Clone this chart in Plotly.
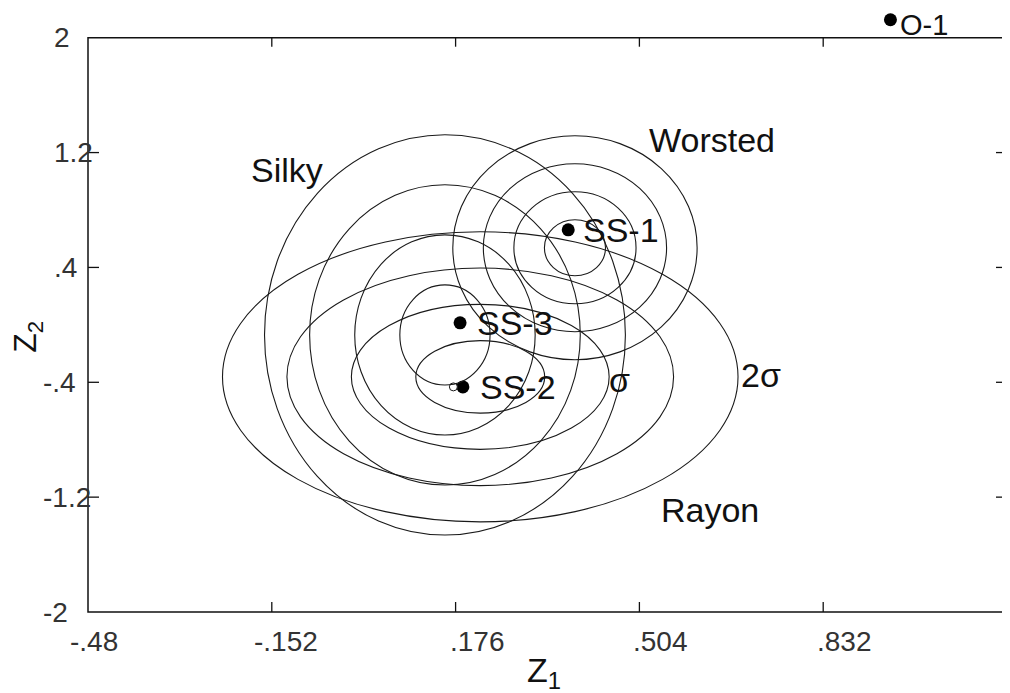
import plotly.graph_objects as go

# ---------------- data ----------------
groups = ["Silky", "Worsted", "Rayon"]
group_center_x = [0.157, 0.389, 0.220]
group_center_y = [-0.070, 0.537, -0.362]
group_sigma_x = [0.161, 0.109, 0.230]
group_sigma_y = [0.697, 0.390, 0.505]
sigma_levels = [0.5, 1.0, 1.5, 2.0]

sample_names = ["SS-1", "SS-2", "SS-3", "O-1"]
sample_x = [0.377, 0.189, 0.184, 0.952]
sample_y = [0.662, -0.432, 0.014, 2.125]

ref_marker_x = [0.172]
ref_marker_y = [-0.432]

x_tick_vals = [-0.48, -0.152, 0.176, 0.504, 0.832]
x_tick_text = ["-.48", "-.152", ".176", ".504", ".832"]
y_tick_vals = [2, 1.2, 0.4, -0.4, -1.2, -2]
y_tick_text = ["2", "1.2", ".4", "-.4", "-1.2", "-2"]

frame_x = [-0.48, 1.16]
frame_y = [-2, 2]

# ---------------- style / layout ----------------
# page body has an 8px margin -> figure is 8px smaller than the window
W, H = 1002, 685
PX_PER_X = 560.2        # pixels per data unit (x)
PX_PER_Y = 143.5        # pixels per data unit (y)
PAD_X = 2 / PX_PER_X    # tiny padding so the frame lines are not clipped
PAD_Y = 2 / PX_PER_Y
TOP_ROOM = 0.2          # extra room above the frame for the O-1 point
x_range = [frame_x[0] - PAD_X, frame_x[1] + PAD_X]
y_range = [frame_y[0] - PAD_Y, frame_y[1] + TOP_ROOM]
PW = (x_range[1] - x_range[0]) * PX_PER_X
PH = (y_range[1] - y_range[0]) * PX_PER_Y
ML = 78
MT = (38 - 8) - TOP_ROOM * PX_PER_Y
MR = W - ML - PW
MB = H - MT - PH

LINE = "#1a1a1a"
FRAME = "#111"
LABEL_FONT = "Liberation Sans, Arial, Helvetica, sans-serif"
TICK_FONT = "Liberation Sans, Arial, sans-serif"
LABEL_SIZE = 34


def px_x(p):
    """window pixel x -> paper fraction"""
    return (p - 8 - ML) / PW


def px_y(p):
    """window pixel y -> paper fraction"""
    return (MT + PH - (p - 8)) / PH


fig = go.Figure()

shapes = []
# ellipses (sigma contours) as plotly ellipse shapes in data coordinates
for gi in range(len(groups)):
    for k in sigma_levels:
        shapes.append(dict(
            type="circle", xref="x", yref="y",
            x0=group_center_x[gi] - k * group_sigma_x[gi],
            x1=group_center_x[gi] + k * group_sigma_x[gi],
            y0=group_center_y[gi] - k * group_sigma_y[gi],
            y1=group_center_y[gi] + k * group_sigma_y[gi],
            line=dict(color=LINE, width=1.1),
            layer="above",
        ))

# plot frame
shapes.append(dict(
    type="rect", xref="x", yref="y",
    x0=frame_x[0], x1=frame_x[1], y0=frame_y[0], y1=frame_y[1],
    line=dict(color=FRAME, width=1.5), layer="above",
))
# inside ticks on all four sides
for v in x_tick_vals[1:]:
    shapes.append(dict(type="line", xref="x", yref="y", ysizemode="pixel",
                       yanchor=frame_y[0], x0=v, x1=v, y0=0, y1=10,
                       line=dict(color=FRAME, width=1.3)))
    shapes.append(dict(type="line", xref="x", yref="y", ysizemode="pixel",
                       yanchor=frame_y[1], x0=v, x1=v, y0=0, y1=-9,
                       line=dict(color=FRAME, width=1.3)))
for v in y_tick_vals[1:-1]:
    shapes.append(dict(type="line", xref="x", yref="y", xsizemode="pixel",
                       xanchor=frame_x[0], x0=0, x1=11, y0=v, y1=v,
                       line=dict(color=FRAME, width=1.3)))
    shapes.append(dict(type="line", xref="x", yref="y", xsizemode="pixel",
                       xanchor=frame_x[1], x0=0, x1=-11, y0=v, y1=v,
                       line=dict(color=FRAME, width=1.3)))

fig.add_trace(go.Scatter(
    x=sample_x, y=sample_y, mode="markers",
    marker=dict(color="black", size=13),
    hoverinfo="skip", showlegend=False,
))
fig.add_trace(go.Scatter(
    x=ref_marker_x, y=ref_marker_y, mode="markers",
    marker=dict(color="white", size=8, symbol="circle",
                line=dict(color=LINE, width=1)),
    hoverinfo="skip", showlegend=False,
))

annotations = []

# sample labels to the right of their dots
sample_label_shift = {"SS-1": 13, "SS-2": 15, "SS-3": 15, "O-1": 9}
for name, x, y in zip(sample_names, sample_x, sample_y):
    if name == "O-1":
        # keep the text box inside the page (top edge just below the window edge)
        annotations.append(dict(
            x=x, y=y, xref="x", yref="y", text=name, showarrow=False,
            xanchor="left", yanchor="top", xshift=sample_label_shift[name],
            yshift=11.5, borderpad=0,
            font=dict(family=LABEL_FONT, size=29, color="#111"),
        ))
    else:
        annotations.append(dict(
            x=x, y=y, xref="x", yref="y", text=name, showarrow=False,
            xanchor="left", yanchor="middle", xshift=sample_label_shift[name],
            font=dict(family=LABEL_FONT, size=LABEL_SIZE, color="#111"),
        ))

# group / sigma labels (placement in data coordinates)
group_label_pos = {
    "Silky": (-0.193, 1.080),
    "Worsted": (0.518, 1.289),
    "Rayon": (0.539, -1.289),
}
for g in groups:
    gx, gy = group_label_pos[g]
    annotations.append(dict(
        x=gx, y=gy, xref="x", yref="y", text=g, showarrow=False,
        xanchor="left", yanchor="middle",
        font=dict(family=LABEL_FONT, size=LABEL_SIZE, color="#111"),
    ))
for txt, (sx, sy) in [("σ", (0.446, -0.383)), ("2σ", (0.682, -0.348))]:
    annotations.append(dict(
        x=sx, y=sy, xref="x", yref="y", text=txt, showarrow=False,
        xanchor="left", yanchor="middle",
        font=dict(family=LABEL_FONT, size=LABEL_SIZE, color="#111"),
    ))

# x tick labels (decimal point sits at the tick)
for v, t in zip(x_tick_vals, x_tick_text):
    annotations.append(dict(
        x=v, y=frame_y[0], xref="x", yref="y", text=t, showarrow=False,
        xanchor="left", yanchor="middle",
        xshift=(-20 if t.startswith("-") else -8), yshift=-29,
        font=dict(family=TICK_FONT, size=28, color="#333"),
    ))
# y tick labels (left-aligned column)
for v, t in zip(y_tick_vals, y_tick_text):
    px = 41 if t.startswith("-") else 52
    annotations.append(dict(
        x=px_x(px), y=v, xref="paper", yref="y", text=t,
        showarrow=False, xanchor="left", yanchor="middle",
        font=dict(family=TICK_FONT, size=28, color="#333"),
    ))

# axis titles
annotations.append(dict(
    x=px_x(525), y=px_y(672), xref="paper", yref="paper",
    text="Z<sub>1</sub>", showarrow=False, xanchor="left", yanchor="middle",
    font=dict(family=LABEL_FONT, size=LABEL_SIZE, color="#111"),
))
annotations.append(dict(
    x=px_x(28), y=px_y(337), xref="paper", yref="paper",
    text="Z<sub>2</sub>", showarrow=False,
    textangle=-90, xanchor="center", yanchor="middle",
    font=dict(family=LABEL_FONT, size=32, color="#111"),
))

axis_common = dict(
    showgrid=False, zeroline=False, showline=False, ticks="",
    showticklabels=False,
)

fig.update_layout(
    width=W, height=H,
    margin=dict(l=ML, r=MR, t=MT, b=MB),
    paper_bgcolor="white", plot_bgcolor="white",
    showlegend=False,
    shapes=shapes, annotations=annotations,
    xaxis=dict(range=x_range, **axis_common),
    yaxis=dict(range=y_range, **axis_common),
)

fig.write_html("out.html")
